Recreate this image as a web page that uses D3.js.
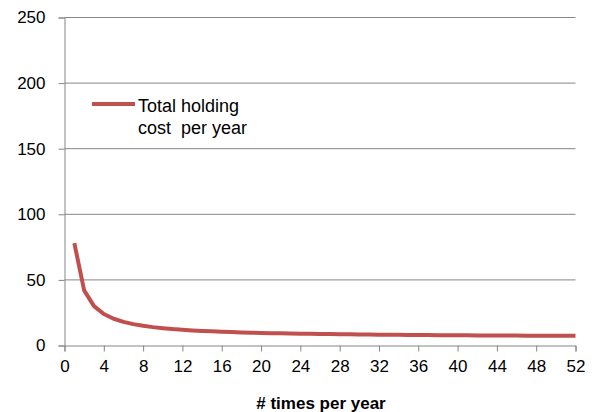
<!DOCTYPE html>
<html>
<head>
<meta charset="utf-8">
<script src="https://cdn.jsdelivr.net/npm/d3@7"></script>
<style>
  html, body { margin: 0; padding: 0; background: #fff; }
  svg { display: block; font-family: "Liberation Sans", Arial, sans-serif; }
</style>
</head>
<body>
<svg id="chart" width="595" height="412"></svg>
<script>
// Orders placed per year
const ordersPerYear = [1,2,3,4,5,6,7,8,9,10,11,12,13,14,15,16,17,18,19,20,21,22,23,24,25,26,
  27,28,29,30,31,32,33,34,35,36,37,38,39,40,41,42,43,44,45,46,47,48,49,50,51,52];
// Total holding cost per year for each ordering frequency
const holdingCost = [78,42,30,24,20.4,18,16.3,15,14,13.2,12.5,12,11.5,11.1,10.8,10.5,10.2,10,
  9.8,9.6,9.4,9.3,9.1,9,8.9,8.8,8.7,8.6,8.5,8.4,8.3,8.25,8.2,8.1,8.05,8,7.95,7.9,7.85,7.8,
  7.75,7.7,7.65,7.6,7.6,7.55,7.5,7.5,7.45,7.45,7.4,7.4];
const xTicks = [0,4,8,12,16,20,24,28,32,36,40,44,48,52];
const yTicks = [0,50,100,150,200,250];
const seriesName = ["Total holding", "cost  per year"];
const xTitle = "# times per year";

const svg = d3.select("#chart");
const gray = "#868686";

const x = d3.scaleLinear().domain([0, 52]).range([64.5, 575.5]);
const y = d3.scaleLinear().domain([0, 250]).range([345.5, 17.5]);

// horizontal gridlines
svg.append("g").selectAll("line")
  .data(yTicks.filter(d => d > 0))
  .join("line")
  .attr("x1", x(0)).attr("x2", x(52))
  .attr("y1", d => y(d)).attr("y2", d => y(d))
  .attr("stroke", gray).attr("stroke-width", 1);

// y axis
const yAxis = svg.append("g")
  .attr("transform", `translate(${x(0)},0)`)
  .call(d3.axisLeft(y).tickValues(yTicks).tickSize(6).tickPadding(13));
// x axis
const xAxis = svg.append("g")
  .attr("transform", `translate(0,${y(0)})`)
  .call(d3.axisBottom(x).tickValues(xTicks).tickSize(6).tickPadding(8));

[yAxis, xAxis].forEach(a => {
  a.select(".domain").attr("stroke", gray).attr("stroke-width", 1);
  a.selectAll(".tick line").attr("stroke", gray);
  a.selectAll(".tick text")
    .attr("fill", "#000")
    .style("font-size", "17px")
    .style("font-family", "'Liberation Sans', Arial, sans-serif");
});

// series line
const line = d3.line()
  .x((d, i) => x(ordersPerYear[i]))
  .y(d => y(d));
svg.append("path")
  .datum(holdingCost)
  .attr("d", line)
  .attr("fill", "none")
  .attr("stroke", "#C0504D")
  .attr("stroke-width", 4)
  .attr("stroke-linejoin", "round");

// legend
svg.append("line")
  .attr("x1", 92).attr("x2", 135)
  .attr("y1", 104).attr("y2", 104)
  .attr("stroke", "#C0504D").attr("stroke-width", 4);
svg.append("text")
  .attr("x", 138).attr("y", 112)
  .style("font-size", "18px")
  .selectAll("tspan")
  .data(seriesName)
  .join("tspan")
  .attr("x", 138)
  .attr("dy", (d, i) => i === 0 ? 0 : 22)
  .attr("xml:space", "preserve")
  .style("white-space", "pre")
  .text(d => d);

// x axis title
svg.append("text")
  .attr("x", 321).attr("y", 409)
  .attr("text-anchor", "middle")
  .style("font-size", "17px")
  .style("font-weight", "bold")
  .text(xTitle);
</script>
</body>
</html>
